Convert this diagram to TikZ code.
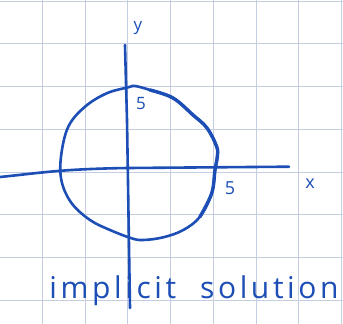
\documentclass[tikz,border=0pt]{standalone}
\usepackage{fontspec}
\newfontfamily\handfont{Open Sans}
\definecolor{ink}{RGB}{28,78,182}
\definecolor{paper}{RGB}{196,206,224}
\begin{document}
\begin{tikzpicture}[x=1pt,y=-1pt,line join=round,line cap=round,font=\handfont,
	gridline/.style={paper,line width=1pt},
	pen/.style={ink,line width=2.6pt},
	label/.style={ink,inner sep=0pt}]
	\def\cell{42.75}
	\useasboundingbox (0,0) rectangle (343,324);
	\fill[white] (0,0) rectangle (343,324);
	% squared paper
	\foreach \k in {1,...,8} \draw[gridline] (\k*\cell-0.3,0) -- (\k*\cell-0.3,324);
	\foreach \k in {0,...,7} \draw[gridline] (0,1.2+\k*\cell) -- (343,1.2+\k*\cell);
	% axes
	\draw[pen] (125,45) -- (127,120) -- (130,308);
	\draw[pen] (0,177) .. controls (40,173) and (60,169) .. (128,168) -- (289,166.7);
	% circle of radius 5
	\draw[pen] plot[smooth cycle,tension=.6] coordinates{(128.3,87.3) (135,86) (150,90) (173,98) (193,115) (207,128) (216.7,146.7) (217.3,156.7) (215,170) (211.7,193.3) (200,216.7) (183.3,230) (163.3,237.3) (143.3,240) (131.7,238.3) (110,230) (90,220) (71.7,203.3) (61.7,181.7) (61,156.7) (68.3,126.7) (85,106.7) (106.7,93.3)};
	\draw[pen,line width=3.4pt] plot[smooth,tension=.6] coordinates{(150,90) (173,98) (193,115) (207,128) (216.7,146.7) (217.3,156.7) (215,170) (211.7,193.3) (200,216.7)};
	% labels
	\node[label,font=\handfont\fontsize{17}{17}\selectfont] (ylab) at (138,28) {y};
	\node[label,font=\handfont\fontsize{18}{18}\selectfont] (xlab) at (310,184) {x};
	\node[label,font=\handfont\fontsize{17}{17}\selectfont] (ymark) at (141,104) {5};
	\node[label,font=\handfont\fontsize{18}{18}\selectfont] (xmark) at (230,188) {5};
	\node[label,font=\handfont\addfontfeature{LetterSpace=12}\fontsize{30}{30}\selectfont] (caption) at (194,291) {implicit\hspace{24pt}solution};
\end{tikzpicture}
\end{document}
